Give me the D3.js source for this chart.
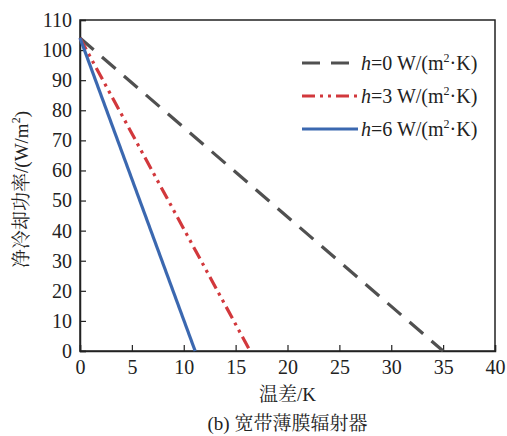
<!DOCTYPE html>
<html>
<head>
<meta charset="utf-8">
<script src="https://cdn.jsdelivr.net/npm/d3@7"></script>
<style>
  html, body { margin: 0; padding: 0; background: #fff; }
  svg text { font-family: "Liberation Serif", "Times New Roman", "Noto Serif CJK SC", "Noto Sans CJK SC", serif; fill: #222; }
</style>
</head>
<body>
<svg id="chart" width="507" height="436"></svg>
<script>
// Net cooling power vs temperature difference for three heat-transfer coefficients
const seriesNames = ["h=0", "h=3", "h=6"];
const startPower = [104, 104, 104];     // W/m² at ΔT = 0
const endDeltaT = [35.0, 16.4, 11.1];   // K where net cooling power reaches 0
const xTicks = [0, 5, 10, 15, 20, 25, 30, 35, 40];
const yTicks = [0, 10, 20, 30, 40, 50, 60, 70, 80, 90, 100, 110];
const colors = ["#505050", "#d2383c", "#3b68b0"];
const dashes = ["18,11", "13,5,3,5,3,5", null];

const svg = d3.select("#chart");
const m = { left: 80, right: 12, top: 20, bottom: 85 };
const W = 507, H = 436;
const x = d3.scaleLinear().domain([0, 40]).range([m.left, W - m.right]);
const y = d3.scaleLinear().domain([0, 110]).range([H - m.bottom, m.top]);

// frame
svg.append("rect")
  .attr("x", x(0)).attr("y", y(110))
  .attr("width", x(40) - x(0)).attr("height", y(0) - y(110))
  .attr("fill", "none").attr("stroke", "#222").attr("stroke-width", 1.5);

const xAxis = svg.append("g").attr("transform", `translate(0,${y(0)})`)
  .call(d3.axisBottom(x).tickValues(xTicks).tickSize(-6).tickPadding(11));
const yAxis = svg.append("g").attr("transform", `translate(${x(0)},0)`)
  .call(d3.axisLeft(y).tickValues(yTicks).tickSize(-6).tickPadding(8));
[xAxis, yAxis].forEach(g => {
  g.select(".domain").attr("stroke", "#222").attr("stroke-width", 1.5);
  g.selectAll(".tick line").attr("stroke", "#222").attr("stroke-width", 1.2);
  g.selectAll(".tick text").style("font-size", "20px").attr("fill", "#222");
});
xAxis.selectAll(".tick text").attr("dy", "0.6em");

// lines
const line = d3.line().x(d => x(d[0])).y(d => y(d[1]));
seriesNames.forEach((s, i) => {
  svg.append("path")
    .datum([[0, startPower[i]], [endDeltaT[i], 0]])
    .attr("d", line)
    .attr("fill", "none")
    .attr("stroke", colors[i])
    .attr("stroke-width", 3.2)
    .attr("stroke-dasharray", dashes[i]);
});

// legend
const lg = svg.append("g");
seriesNames.forEach((s, i) => {
  const ly = 63 + i * 33;
  lg.append("line")
    .attr("x1", 302).attr("x2", 358).attr("y1", ly).attr("y2", ly)
    .attr("stroke", colors[i]).attr("stroke-width", 3.2)
    .attr("stroke-dasharray", dashes[i]);
  const t = lg.append("text").attr("x", 361).attr("y", ly + 7).style("font-size", "20px");
  t.append("tspan").attr("font-style", "italic").text("h");
  t.append("tspan").text(s.slice(1) + " W/(m");
  t.append("tspan").attr("font-size", "12px").attr("dy", "-8").text("2");
  t.append("tspan").attr("dy", "8").text("·K)");
});

// axis titles
svg.append("text")
  .attr("x", x(20)).attr("y", 401)
  .attr("text-anchor", "middle").style("font-size", "19px").text("温差/K");

const yl = svg.append("text")
  .attr("transform", `translate(28,${(y(0) + y(110)) / 2 + 4}) rotate(-90)`)
  .attr("text-anchor", "middle").style("font-size", "19px");
yl.append("tspan").text("净冷却功率/(W/m");
yl.append("tspan").attr("font-size", "12px").attr("dy", "-8").text("2");
yl.append("tspan").attr("dy", "8").text(")");

svg.append("text")
  .attr("x", x(20)).attr("y", 430)
  .attr("text-anchor", "middle").style("font-size", "19px").text("(b) 宽带薄膜辐射器");
</script>
</body>
</html>
